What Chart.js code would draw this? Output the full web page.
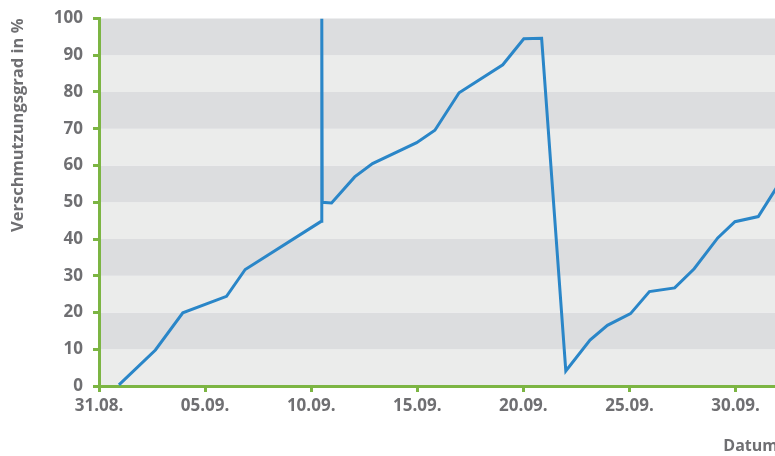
<!DOCTYPE html>
<html>
<head>
<meta charset="utf-8">
<script src="https://cdn.jsdelivr.net/npm/chart.js@4"></script>
<style>
  html, body { margin: 0; padding: 0; background: #fff; overflow: hidden; }
  #wrap { position: relative; width: 782px; height: 456px; }
</style>
</head>
<body>
<div id="wrap"><canvas id="chart"></canvas></div>
<script>
// Days counted from 31.08. (day 0)
const days = [0.94, 2.66, 3.95, 6.01, 6.89, 10.47, 10.5, 10.52, 10.96, 12.05, 12.89, 14.97, 15.83, 16.97, 19.03, 20.02, 20.86, 22.0, 23.14, 23.96, 25.05, 25.94, 27.13, 28.05, 29.16, 29.97, 31.07, 32.0];
const values = [0.3, 9.8, 19.9, 24.4, 31.7, 44.8, 100, 50, 49.8, 56.9, 60.5, 66.2, 69.6, 79.8, 87.4, 94.5, 94.6, 4.1, 12.5, 16.5, 19.7, 25.7, 26.7, 31.9, 40.3, 44.7, 46.1, 54.6];
const tickLabels = ['31.08.', '05.09.', '10.09.', '15.09.', '20.09.', '25.09.', '30.09.'];
const yTitle = 'Verschmutzungsgrad in %';
const xTitle = 'Datum';

const GREEN = '#7cb543';
const TEXT = '#6f6f72';
const FONT = '"Open Sans", sans-serif';

// alternating grey bands behind the plot
const bandsPlugin = {
  id: 'bands',
  beforeDraw(chart) {
    const { ctx, chartArea, scales } = chart;
    const y = scales.y;
    ctx.save();
    for (let v = 0; v < 100; v += 10) {
      const top = y.getPixelForValue(v + 10);
      const bottom = y.getPixelForValue(v);
      ctx.fillStyle = (v / 10) % 2 === 1 ? '#dcdddf' : '#ebeceb';
      ctx.fillRect(chartArea.left, top, chartArea.right - chartArea.left, bottom - top);
    }
    ctx.restore();
  }
};

const points = days.map((d, i) => ({ x: d, y: values[i] }));

new Chart(document.getElementById('chart').getContext('2d'), {
  type: 'line',
  data: {
    datasets: [{
      data: points,
      borderColor: '#2a86c8',
      borderWidth: 3,
      pointRadius: 0,
      tension: 0,
      fill: false
    }]
  },
  options: {
    responsive: true,
    maintainAspectRatio: false,
    animation: false,
    layout: { padding: { top: 17, right: 0, left: 0, bottom: 0 } },
    plugins: { legend: { display: false }, tooltip: { enabled: false } },
    scales: {
      x: {
        type: 'linear',
        min: 0,
        max: 32,
        afterFit(scale) { scale.height = 70; },
        border: { color: GREEN, width: 3 },
        grid: { drawOnChartArea: false, color: GREEN, tickColor: GREEN, tickLength: 6, lineWidth: 3 },
        ticks: {
          stepSize: 5,
          padding: 4,
          color: TEXT,
          font: { family: FONT, size: 17, weight: 'bold' },
          callback: (v) => tickLabels[v / 5] ?? ''
        },
        title: {
          display: true,
          text: xTitle,
          align: 'end',
          color: TEXT,
          font: { family: FONT, size: 16, weight: 'bold' },
          padding: { top: 0, bottom: 0 }
        }
      },
      y: {
        min: 0,
        max: 100,
        afterFit(scale) { scale.width = 99; },
        border: { color: GREEN, width: 3 },
        grid: { drawOnChartArea: false, color: GREEN, tickColor: GREEN, tickLength: 6, lineWidth: 3 },
        ticks: {
          stepSize: 10,
          padding: 10,
          color: TEXT,
          font: { family: FONT, size: 17, weight: 'bold', lineHeight: 1 }
        },
        title: {
          display: true,
          text: yTitle,
          align: 'end',
          color: TEXT,
          font: { family: FONT, size: 16.5, weight: 'bold' },
          padding: { top: 8, bottom: 0 }
        }
      }
    }
  },
  plugins: [bandsPlugin]
});
</script>
</body>
</html>
